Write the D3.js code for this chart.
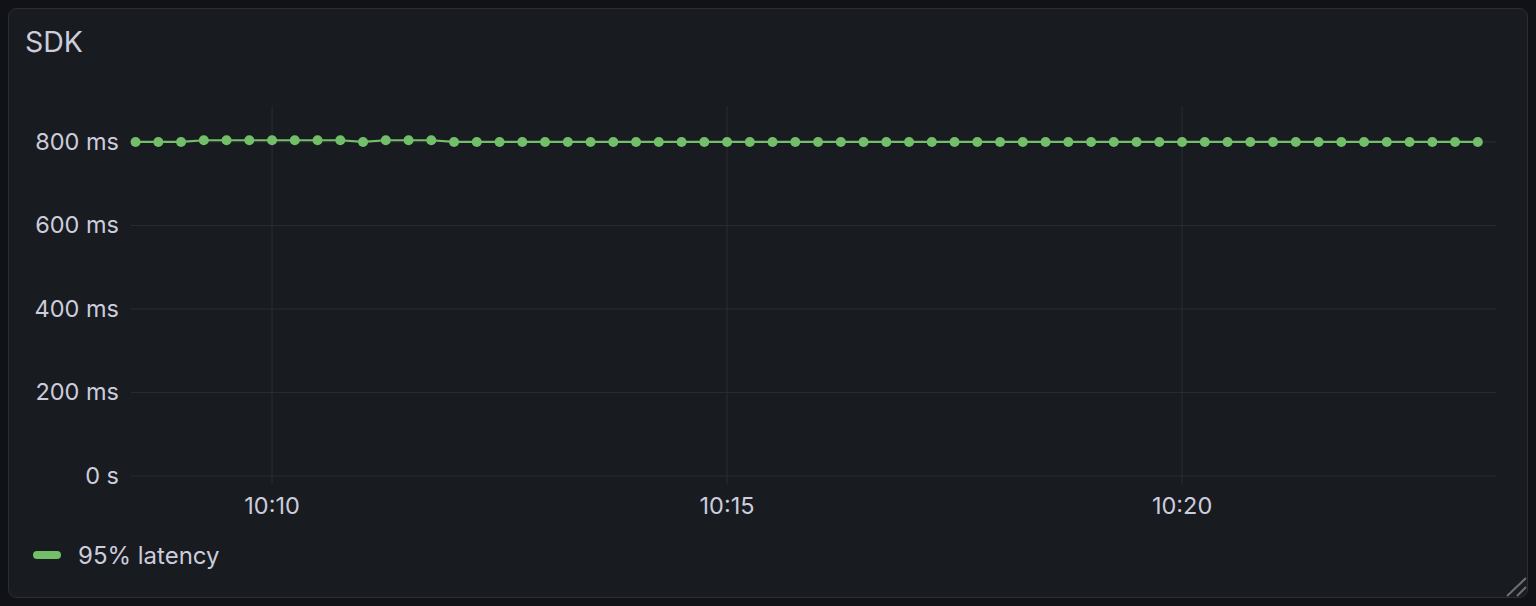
<!DOCTYPE html>
<html>
<head>
<meta charset="utf-8">
<script src="https://cdn.jsdelivr.net/npm/d3@7"></script>
<style>
  html, body { margin: 0; padding: 0; background: #111217; }
  svg { display: block; font-family: Inter, "Noto Sans", sans-serif; }
</style>
</head>
<body>
<svg id="chart" width="1536" height="606"></svg>
<script>
// Panel data (p95 latency in ms, one sample every 15 s starting 10:08:30)
const title = 'SDK';
const seriesName = '95% latency';
const startTime = '10:08:30';
const stepSeconds = 15;
const latencyMs = [
  800, 800, 800, 804, 804, 804, 804, 804, 804, 804,
  800, 804, 804, 804, 800, 800, 800, 800, 800, 800,
  800, 800, 800, 800, 800, 800, 800, 800, 800, 800,
  800, 800, 800, 800, 800, 800, 800, 800, 800, 800,
  800, 800, 800, 800, 800, 800, 800, 800, 800, 800,
  800, 800, 800, 800, 800, 800, 800, 800, 800, 800
];
const yTicks = [0, 200, 400, 600, 800];
const xTicks = ['10:10', '10:15', '10:20'];
const windowStart = '10:08:27';
const windowEnd = '10:23:27';

const parse = d3.timeParse('%H:%M:%S');
const t0 = parse(startTime);
const points = latencyMs.map((v, i) => ({ t: d3.timeSecond.offset(t0, i * stepSeconds), v }));

const green = '#73bf69';
const textColor = '#ccccdc';
const gridColor = '#2b2d32';
const labelSize = '23.5px';

const svg = d3.select('#chart');

// panel box
svg.append('rect')
  .attr('x', 8.5).attr('y', 8.5)
  .attr('width', 1519).attr('height', 589)
  .attr('rx', 8)
  .attr('fill', '#181b1f')
  .attr('stroke', '#2c2e33');

svg.append('text')
  .attr('x', 25).attr('y', 52)
  .attr('fill', textColor)
  .style('font-size', '28.5px')
  .text(title);

const x = d3.scaleTime()
  .domain([parse(windowStart), parse(windowEnd)])
  .range([131, 1496]);

const y = d3.scaleLinear()
  .domain([0, 886])
  .range([476, 106]);

// grid
svg.append('g').selectAll('line')
  .data(yTicks)
  .join('line')
  .attr('x1', 131).attr('x2', 1496)
  .attr('y1', d => y(d)).attr('y2', d => y(d))
  .attr('stroke', gridColor);

const xTickDates = xTicks.map(s => d3.timeParse('%H:%M')(s));
svg.append('g').selectAll('line')
  .data(xTickDates)
  .join('line')
  .attr('x1', d => x(d)).attr('x2', d => x(d))
  .attr('y1', 106).attr('y2', 484)
  .attr('stroke', gridColor);

// axis labels
svg.append('g').selectAll('text')
  .data(yTicks)
  .join('text')
  .attr('x', 119)
  .attr('y', d => y(d) + 8)
  .attr('text-anchor', 'end')
  .attr('fill', textColor)
  .style('font-size', labelSize)
  .text(d => d === 0 ? '0 s' : d + ' ms');

svg.append('g').selectAll('text')
  .data(xTickDates)
  .join('text')
  .attr('x', d => x(d))
  .attr('y', 514)
  .attr('text-anchor', 'middle')
  .attr('fill', textColor)
  .style('font-size', labelSize)
  .text(d => d3.timeFormat('%H:%M')(d));

// series
const line = d3.line().x(d => x(d.t)).y(d => y(d.v));
svg.append('path')
  .datum(points)
  .attr('d', line)
  .attr('fill', 'none')
  .attr('stroke', green)
  .attr('stroke-width', 2.2);

svg.append('g').selectAll('circle')
  .data(points)
  .join('circle')
  .attr('cx', d => x(d.t))
  .attr('cy', d => y(d.v))
  .attr('r', 5)
  .attr('fill', green);

// legend
svg.append('rect')
  .attr('x', 33).attr('y', 551)
  .attr('width', 28).attr('height', 8)
  .attr('rx', 4)
  .attr('fill', green);

svg.append('text')
  .attr('x', 78).attr('y', 563.5)
  .attr('fill', textColor)
  .style('font-size', '24px')
  .text(seriesName);

// resize handle
svg.append('line')
  .attr('x1', 1507).attr('y1', 596).attr('x2', 1526).attr('y2', 578)
  .attr('stroke', '#6e6f75').attr('stroke-width', 2);
svg.append('line')
  .attr('x1', 1517).attr('y1', 596).attr('x2', 1526).attr('y2', 587)
  .attr('stroke', '#6e6f75').attr('stroke-width', 2);
</script>
</body>
</html>
